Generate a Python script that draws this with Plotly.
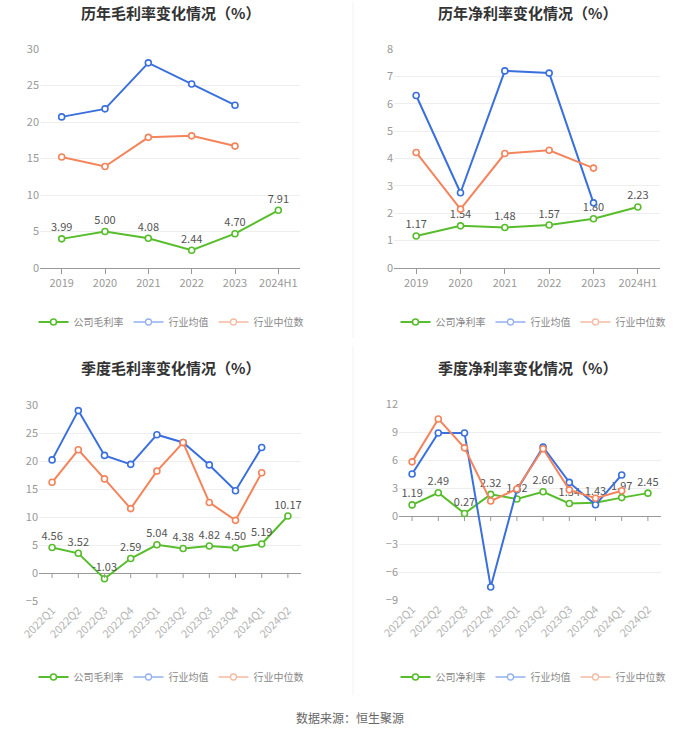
import plotly.graph_objects as go

# ---------------- data ----------------
years = ["2019", "2020", "2021", "2022", "2023", "2024H1"]
gross_company = [3.99, 5.00, 4.08, 2.44, 4.70, 7.91]
gross_avg = [20.7, 21.8, 28.1, 25.2, 22.3]
gross_median = [15.2, 13.9, 17.9, 18.1, 16.7]

net_company = [1.17, 1.54, 1.48, 1.57, 1.80, 2.23]
net_avg = [6.3, 2.75, 7.2, 7.12, 2.38]
net_median = [4.22, 2.15, 4.18, 4.30, 3.65]

quarters = ["2022Q1", "2022Q2", "2022Q3", "2022Q4", "2023Q1", "2023Q2",
            "2023Q3", "2023Q4", "2024Q1", "2024Q2"]
q_gross_company = [4.56, 3.52, -1.03, 2.59, 5.04, 4.38, 4.82, 4.50, 5.19, 10.17]
q_gross_avg = [20.2, 29.0, 21.0, 19.4, 24.7, 23.3, 19.3, 14.7, 22.4]
q_gross_median = [16.2, 22.0, 16.8, 11.5, 18.2, 23.3, 12.6, 9.4, 17.9]

q_net_company = [1.19, 2.49, 0.27, 2.32, 1.82, 2.60, 1.34, 1.43, 1.97, 2.45]
q_net_avg = [4.5, 8.9, 8.9, -7.6, 2.8, 7.4, 3.6, 1.2, 4.4]
q_net_median = [5.8, 10.4, 7.3, 1.6, 2.9, 7.2, 2.8, 1.9, 2.7]

titles = ["历年毛利率变化情况（%）", "历年净利率变化情况（%）",
          "季度毛利率变化情况（%）", "季度净利率变化情况（%）"]
names_gross = ["公司毛利率", "行业均值", "行业中位数"]
names_net = ["公司净利率", "行业均值", "行业中位数"]

GREEN = "#58bd2c"
BLUE = "#3a6fde"
ORANGE = "#f3845c"
BLUE_LIGHT = "#93b0ee"
ORANGE_LIGHT = "#f5b9a2"

W, H = 700, 734
FONT = "Noto Sans CJK SC"


def px_x(v):
    return v / W


def px_y(v):
    return 1 - v / H


fig = go.Figure()

panels = [
    dict(cats=years, comp=gross_company, avg=gross_avg, med=gross_median,
         names=names_gross, xd=(40, 300), yd=(49, 268), yr=[0, 30], dt=5,
         legend="legend", ax="", angle=0, zero_axis=False),
    dict(cats=years, comp=net_company, avg=net_avg, med=net_median,
         names=names_net, xd=(394, 660), yd=(49, 268), yr=[0, 8], dt=1,
         legend="legend2", ax="2", angle=0, zero_axis=False),
    dict(cats=quarters, comp=q_gross_company, avg=q_gross_avg, med=q_gross_median,
         names=names_gross, xd=(39, 301), yd=(405, 601), yr=[-5, 30], dt=5,
         legend="legend3", ax="3", angle=-45, zero_axis=True),
    dict(cats=quarters, comp=q_net_company, avg=q_net_avg, med=q_net_median,
         names=names_net, xd=(399, 661), yd=(404, 600), yr=[-9, 12], dt=3,
         legend="legend4", ax="4", angle=-45, zero_axis=True),
]

layout = {}
annotations = []
shapes = []

for i, p in enumerate(panels):
    xa = "x" + p["ax"]
    ya = "y" + p["ax"]
    n = len(p["cats"])
    mk = dict(symbol="circle", size=6, color="white")
    fig.add_trace(go.Scatter(
        x=p["cats"], y=p["comp"], name=p["names"][0], mode="lines+markers+text",
        line=dict(color=GREEN, width=2),
        marker=dict(mk, line=dict(color=GREEN, width=1.6)),
        text=[f"{v:.2f}" for v in p["comp"]], textposition="top center",
        textfont=dict(size=11, color="#555555", family=FONT),
        xaxis=xa, yaxis=ya, legend=p["legend"], cliponaxis=False))
    fig.add_trace(go.Scatter(
        x=p["cats"][:len(p["avg"])], y=p["avg"], name=p["names"][1], mode="lines+markers",
        line=dict(color=BLUE, width=2),
        marker=dict(mk, line=dict(color=BLUE, width=1.6)),
        xaxis=xa, yaxis=ya, legend=p["legend"], showlegend=False, cliponaxis=False))
    fig.add_trace(go.Scatter(
        x=p["cats"][:len(p["med"])], y=p["med"], name=p["names"][2], mode="lines+markers",
        line=dict(color=ORANGE, width=2),
        marker=dict(mk, line=dict(color=ORANGE, width=1.6)),
        xaxis=xa, yaxis=ya, legend=p["legend"], showlegend=False, cliponaxis=False))
    # legend entries for industry series (drawn lighter, as in the reference)
    for nm, col in ((p["names"][1], BLUE_LIGHT), (p["names"][2], ORANGE_LIGHT)):
        fig.add_trace(go.Scatter(
            x=[None], y=[None], name=nm, mode="lines+markers",
            line=dict(color=col, width=1.3),
            marker=dict(mk, line=dict(color=col, width=1.3)),
            xaxis=xa, yaxis=ya, legend=p["legend"], hoverinfo="skip"))

    xkey = "xaxis" + p["ax"]
    ykey = "yaxis" + p["ax"]
    layout[xkey] = dict(
        domain=[px_x(p["xd"][0]), px_x(p["xd"][1])], anchor=ya,
        type="category", range=[-0.5, n - 0.5],
        categoryorder="array", categoryarray=p["cats"],
        showgrid=False, zeroline=False, automargin=False,
        showline=not p["zero_axis"], linecolor="#999999", linewidth=1,
        ticks="" if p["zero_axis"] else "outside", ticklen=5, tickcolor="#999999",
        tickangle=p["angle"],
        tickfont=dict(size=11, color="#b5b5b5" if p["zero_axis"] else "#999999", family=FONT),
        fixedrange=True)
    layout[ykey] = dict(
        domain=[px_y(p["yd"][1]), px_y(p["yd"][0])], anchor=xa,
        range=p["yr"], dtick=p["dt"], tick0=0, automargin=False,
        showgrid=True, gridcolor="#eeeeee", gridwidth=1,
        zeroline=p["zero_axis"], zerolinecolor="#999999", zerolinewidth=1,
        showline=False, ticks="",
        tickfont=dict(size=11, color="#999999", family=FONT),
        fixedrange=True)

    if p["zero_axis"]:
        for c in p["cats"]:
            shapes.append(dict(type="line", xref=xa, yref=ya, x0=c, x1=c,
                               ysizemode="pixel", yanchor=0, y0=0, y1=-5,
                               line=dict(color="#999999", width=1)))

    ty = 12 if i < 2 else 367
    annotations.append(dict(
        text=f"<b>{titles[i]}</b>", x=px_x(170 if i % 2 == 0 else 527), y=px_y(ty),
        xref="paper", yref="paper", xanchor="center", yanchor="middle",
        showarrow=False, font=dict(size=15, color="#333333", family=FONT)))

    ly = 322 if i < 2 else 677
    layout[p["legend"]] = dict(
        orientation="h", x=px_x(171 if i % 2 == 0 else 533), y=px_y(ly),
        xanchor="center", yanchor="middle",
        font=dict(size=10, color="#888888", family=FONT),
        bgcolor="rgba(0,0,0,0)", itemwidth=30, tracegroupgap=0)

annotations.append(dict(
    text="数据来源：恒生聚源", x=px_x(350), y=px_y(717), xref="paper", yref="paper",
    xanchor="center", yanchor="middle", showarrow=False,
    font=dict(size=12, color="#666666", family=FONT)))

shapes.append(dict(type="line", xref="paper", yref="paper", x0=px_x(353), x1=px_x(353),
                   y0=px_y(2), y1=px_y(338), line=dict(color="#f2f2f2", width=1)))
shapes.append(dict(type="line", xref="paper", yref="paper", x0=px_x(353), x1=px_x(353),
                   y0=px_y(346), y1=px_y(695), line=dict(color="#f2f2f2", width=1)))

fig.update_layout(
    width=W, height=H, margin=dict(l=0, r=0, t=0, b=0, autoexpand=False),
    paper_bgcolor="white", plot_bgcolor="white",
    showlegend=True, annotations=annotations, shapes=shapes,
    font=dict(family=FONT), **layout)

fig.write_html("out.html", config={"displayModeBar": False},
               post_script="document.body.style.margin='0';document.body.style.overflow='hidden';")
